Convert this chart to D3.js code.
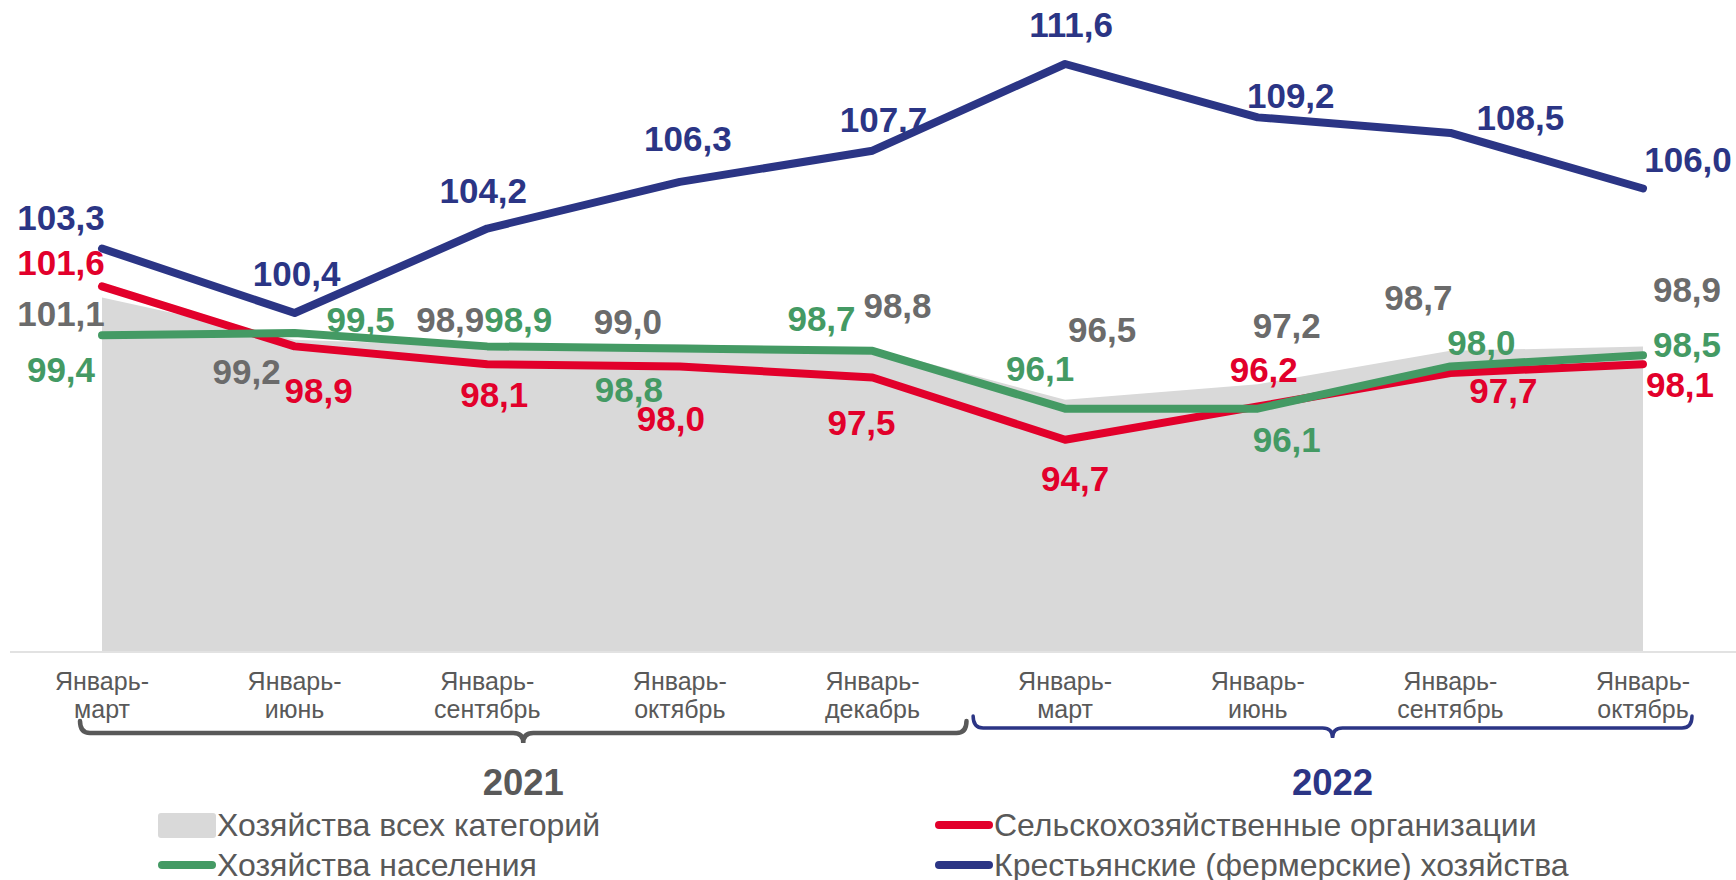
<!DOCTYPE html>
<html><head><meta charset="utf-8">
<script src="https://cdn.jsdelivr.net/npm/d3@7"></script>
<style>
html,body{margin:0;padding:0;background:#fff;overflow:hidden;}
svg{display:block;font-family:"Liberation Sans",Arial,sans-serif;}
</style></head>
<body><svg id="c" width="1736" height="880"></svg>
<script>
// ---- data ----
const periods = [
  ["Январь-","март"],["Январь-","июнь"],["Январь-","сентябрь"],["Январь-","октябрь"],["Январь-","декабрь"],
  ["Январь-","март"],["Январь-","июнь"],["Январь-","сентябрь"],["Январь-","октябрь"]
];
const years = ["2021","2022"];
const yearSpans = [[0,4],[5,8]];
const allCategories = [101.1, 99.2, 98.9, 99.0, 98.8, 96.5, 97.2, 98.7, 98.9];
const agriOrgs      = [101.6, 98.9, 98.1, 98.0, 97.5, 94.7, 96.2, 97.7, 98.1];
const households    = [99.4, 99.5, 98.9, 98.8, 98.7, 96.1, 96.1, 98.0, 98.5];
const farms         = [103.3, 100.4, 104.2, 106.3, 107.7, 111.6, 109.2, 108.5, 106.0];
const seriesNames = ["Хозяйства всех категорий","Хозяйства населения","Сельскохозяйственные организации","Крестьянские (фермерские) хозяйства"];

// ---- layout / style ----
const C = {gray:"#d9d9d9", grayText:"#6b6b6b", axisText:"#595959", red:"#e2002b", green:"#449a64", blue:"#2b3585"};
// label offsets from data points [dx, dy]
const offAll  = [[-41,16],[-48,32],[-37,-27],[-52,-23],[25,-43],[37,-70],[29,-59],[-32,-53],[44,-57]];
const offRed  = [[-41,-24],[24,44],[7,30],[-9,52],[-11,45],[10,39],[6,-37],[53,17],[37,20]];
const offGrn  = [[-41,34],[66,-14],[31,-27],[-51,41],[-51,-32],[-25,-40],[29,31],[31,-24],[44,-11]];
const offBlue = [[-41,-31],[2,-40],[-4,-38],[8,-43],[11,-31],[6,-40],[33,-22],[70,-15],[45,-29]];

const svg = d3.select("#c");
const idx = d3.range(periods.length);
const x = d3.scalePoint().domain(idx).range([102,1643]);
const y = d3.scaleLinear().domain([85.2,111.6]).range([651,64]);

// baseline axis line
svg.append("line").attr("x1",10).attr("x2",1736).attr("y1",y(85.2)+1).attr("y2",y(85.2)+1)
  .attr("stroke","#d9d9d9").attr("stroke-width",1.5);

// area
svg.append("path").datum(allCategories)
  .attr("d", d3.area().x((d,i)=>x(i)).y0(y(85.2)).y1(d=>y(d)))
  .attr("fill",C.gray);

const line = d3.line().x((d,i)=>x(i)).y(d=>y(d));
[[agriOrgs,C.red],[households,C.green],[farms,C.blue]].forEach(([s,c])=>{
  svg.append("path").datum(s).attr("d",line).attr("fill","none").attr("stroke",c)
    .attr("stroke-width",8).attr("stroke-linecap","round").attr("stroke-linejoin","round");
});

// value labels
const fmt = v => v.toFixed(1).replace(".",",");
function labels(s, off, color){
  svg.append("g").selectAll("text").data(s).join("text")
    .attr("x",(d,i)=>x(i)+off[i][0]).attr("y",(d,i)=>y(d)+off[i][1])
    .attr("text-anchor","middle").attr("dominant-baseline","central")
    .attr("font-size",35).attr("font-weight","bold").attr("fill",color).text(fmt);
}
labels(allCategories, offAll, C.grayText);
labels(agriOrgs, offRed, C.red);
labels(households, offGrn, C.green);
labels(farms, offBlue, C.blue);

// category labels
const cat = svg.append("g").selectAll("text").data(periods).join("text")
  .attr("x",(d,i)=>x(i)).attr("y",681).attr("text-anchor","middle")
  .attr("font-size",25).attr("fill",C.axisText);
cat.append("tspan").attr("x",(d,i)=>x(i)).attr("dominant-baseline","central").text(d=>d[0]);
cat.append("tspan").attr("x",(d,i)=>x(i)).attr("dy",28).attr("dominant-baseline","central").text(d=>d[1]);

// braces
function brace(x1,x2,yy,color,w){
  const m=(x1+x2)/2, r=10;
  const p=`M${x1},${yy-12} Q${x1},${yy} ${x1+r},${yy} L${m-10},${yy} Q${m},${yy} ${m},${yy+10} Q${m},${yy} ${m+10},${yy} L${x2-r},${yy} Q${x2},${yy} ${x2},${yy-12}`;
  svg.append("path").attr("d",p).attr("fill","none").attr("stroke",color).attr("stroke-width",w).attr("stroke-linecap","round");
}
brace(x(yearSpans[0][0])-22, x(yearSpans[0][1])+94, 733, "#595959", 4.5);
brace(x(yearSpans[1][0])-92, x(yearSpans[1][1])+49, 728, C.blue, 3.5);
const yearColors=["#595959",C.blue];
years.forEach((t,k)=>{
  const cx = k===0 ? (x(yearSpans[0][0])-22 + x(yearSpans[0][1])+94)/2 : (x(yearSpans[1][0])-92 + x(yearSpans[1][1])+49)/2;
  svg.append("text").attr("x",cx).attr("y",782).attr("text-anchor","middle").attr("dominant-baseline","central")
    .attr("font-size",36.5).attr("font-weight","bold").attr("fill",yearColors[k]).text(t);
});

// legend
const leg = [
  {name:seriesNames[0], type:"rect", color:C.gray, lx:158, ly:825},
  {name:seriesNames[1], type:"line", color:C.green, lx:158, ly:865},
  {name:seriesNames[2], type:"line", color:C.red, lx:935, ly:825},
  {name:seriesNames[3], type:"line", color:C.blue, lx:935, ly:865}
];
leg.forEach(l=>{
  if(l.type==="rect") svg.append("rect").attr("x",l.lx).attr("y",l.ly-12).attr("width",58).attr("height",25).attr("rx",3).attr("fill",l.color);
  else svg.append("line").attr("x1",l.lx+4).attr("x2",l.lx+54).attr("y1",l.ly).attr("y2",l.ly).attr("stroke",l.color).attr("stroke-width",8).attr("stroke-linecap","round");
  svg.append("text").attr("x",l.lx+59).attr("y",l.ly).attr("dominant-baseline","central")
    .attr("font-size",32).attr("fill",C.axisText).text(l.name);
});
</script></body></html>
